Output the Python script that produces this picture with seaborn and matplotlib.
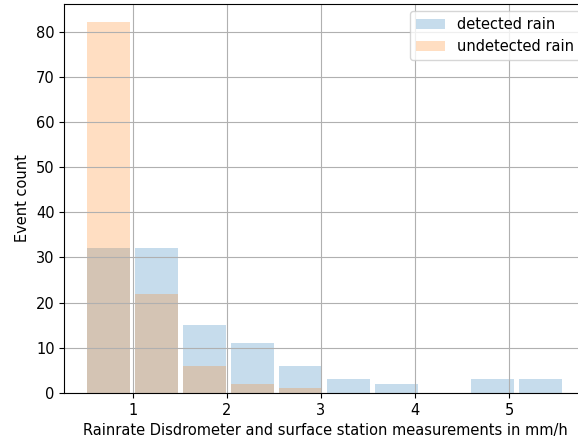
import numpy as np
import pandas as pd
import matplotlib
matplotlib.use("Agg")
import matplotlib.pyplot as plt
import seaborn as sns

# histogram bins (rain rate in mm/h) and counts per bin
bin_lo, bin_hi, n_bins = 0.484, 5.59, 10
detected = [32, 32, 15, 11, 6, 3, 2, 0, 3, 3]
undetected = [82, 22, 6, 2, 1, 0, 0, 0, 0, 0]

edges = np.linspace(bin_lo, bin_hi, n_bins + 1)
centers = (edges[:-1] + edges[1:]) / 2
df = pd.DataFrame({"center": centers, "detected": detected, "undetected": undetected})

plt.rcParams["font.size"] = 10.5

fig = plt.figure(figsize=(5.78, 4.41), dpi=100)
# the original figure was cut at the right, so the axes run past the edge
ax = fig.add_axes([0.1115, 0.109, 0.904, 0.882])

sns.histplot(data=df, x="center", weights="detected", bins=n_bins,
             binrange=(bin_lo, bin_hi), shrink=0.9,
             color="tab:blue", alpha=0.25, linewidth=0, label="detected rain", ax=ax)
sns.histplot(data=df, x="center", weights="undetected", bins=n_bins,
             binrange=(bin_lo, bin_hi), shrink=0.9,
             color="tab:orange", alpha=0.25, linewidth=0, label="undetected rain", ax=ax)

ax.set_xlim(0.271, 5.83)
ax.grid(True)
ax.set_xlabel("Rainrate Disdrometer and surface station measurements in mm/h")
ax.set_ylabel("Event count")
ax.legend(loc="upper right")

fig.savefig("out.png", dpi=100)
